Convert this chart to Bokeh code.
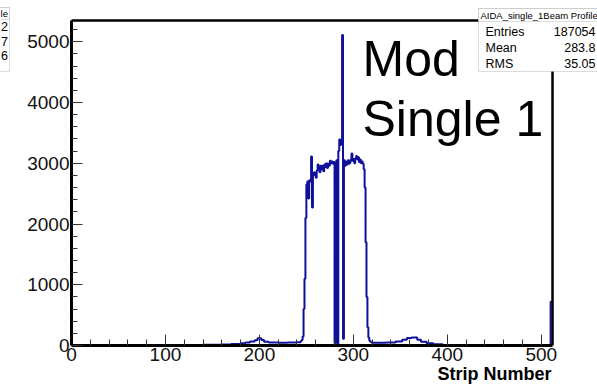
from bokeh.plotting import figure
from bokeh.models import Range1d, FixedTicker, Label, BoxAnnotation, LinearAxis
from bokeh.embed import file_html
from bokeh.resources import INLINE

# ---------------- data ----------------
low_edges = [0, 140, 160, 170, 180, 185, 190, 195, 198, 202, 205, 210, 220, 230, 240, 244]
low_counts = [8, 12, 18, 25, 35, 50, 65, 85, 120, 90, 60, 50, 45, 50, 55, 75]

peak_first_strip = 245
peak_counts = [
    90, 150, 600, 1100, 2100, 2650, 2700, 2420, 2720, 2700,      # 245-254
    3110, 2270, 2800, 2850, 2830, 2760, 2880, 2980, 2900, 2850,  # 255-264
    2960, 2900, 2960, 2870, 2980, 2940, 3000, 2920, 2990, 2960,  # 265-274
    3040, 3000, 3030, 2990, 3020, 35, 2950, 3050, 25, 3200,      # 275-284
    3390, 3300, 3390, 5110, 110, 3050, 2960, 3020, 2980, 3050,   # 285-294
    2990, 3010, 3060, 3160, 3040, 3070, 3000, 3080, 3120, 3060,  # 295-304
    3100, 3020, 3060, 3000, 3030, 2990, 2900, 2600, 1700, 800,   # 305-314
    300, 130, 80, 60, 50,                                        # 315-319
]

tail_edges = [320, 335, 345, 352, 357, 362, 368, 372, 378, 385, 395, 510]
tail_counts = [45, 50, 65, 95, 125, 130, 95, 60, 35, 20, 8, 720]
x_max = 512
y_max = 5350

x_major_ticks = [0, 100, 200, 300, 400, 500]
x_minor_ticks = [20, 40, 60, 80, 120, 140, 160, 180, 220, 240, 260, 280,
                 320, 340, 360, 380, 420, 440, 460, 480]
y_major_ticks = [0, 1000, 2000, 3000, 4000, 5000]
y_minor_ticks = [200, 400, 600, 800, 1200, 1400, 1600, 1800, 2200, 2400, 2600, 2800,
                 3200, 3400, 3600, 3800, 4200, 4400, 4600, 4800, 5200]

stats_title = "AIDA_single_1Beam Profile"
stats_names = ["Entries", "Mean", "RMS"]
stats_values = ["187054", "283.8", "35.05"]
left_box_texts = ["2", "7", "6"]
annotation_lines = ["Mod", "Single 1"]
x_title = "Strip Number"

# ---------------- build histogram outline ----------------
edges = low_edges + [peak_first_strip + i for i in range(len(peak_counts))] + tail_edges + [x_max]
counts = low_counts + peak_counts + tail_counts
xs, ys = [], []
for i, c in enumerate(counts):
    xs += [edges[i], edges[i + 1]]
    ys += [c, c]

# ---------------- layout ----------------
W, H = 597, 384
FL, FR, FT, FB = 71, 552, 20, 345   # pixel position of the drawn ROOT frame
FONT = "Liberation Sans"

sx = (FR - FL) / x_max          # px per strip
sy = (FB - FT) / y_max          # px per count
x_range = Range1d(-FL / sx, x_max + (W - FR) / sx)
y_range = Range1d(-(H - FB) / sy, y_max + FT / sy)

p = figure(width=W, height=H, x_range=x_range, y_range=y_range,
           output_backend="svg", toolbar_location=None,
           min_border_left=0, min_border_right=0, min_border_top=0, min_border_bottom=0)
p.background_fill_color = "white"
p.border_fill_color = "white"
p.outline_line_color = None
p.xgrid.visible = False
p.ygrid.visible = False

p.xaxis.ticker = FixedTicker(ticks=x_major_ticks, minor_ticks=x_minor_ticks)
p.yaxis.ticker = FixedTicker(ticks=y_major_ticks, minor_ticks=y_minor_ticks)
p.xaxis.fixed_location = 0
p.yaxis.fixed_location = 0
p.xaxis.bounds = (0, x_max)
p.yaxis.bounds = (0, y_max)
for ax in (p.xaxis, p.yaxis):
    ax.major_tick_in = 11
    ax.major_tick_out = 0
    ax.minor_tick_in = 6
    ax.minor_tick_out = 0
    ax.major_tick_line_color = "#333333"
    ax.minor_tick_line_color = "#333333"
    ax.axis_line_width = 3
    ax.axis_line_color = "black"
    ax.major_label_text_font = FONT
    ax.major_label_text_font_size = "19px"
    ax.major_label_text_color = "#111111"
    ax.major_label_standoff = 2

# top and right frame lines
for loc, fixed, bnds in (("above", y_max, (0, x_max)), ("right", x_max, (0, y_max))):
    fa = LinearAxis(ticker=FixedTicker(ticks=[]), fixed_location=fixed, bounds=bnds,
                    axis_line_width=2.5, axis_line_color="black",
                    major_tick_line_color=None, minor_tick_line_color=None,
                    major_label_text_font_size="0px")
    p.add_layout(fa, loc)

p.line(xs, ys, line_color="#10109a", line_width=2)


def clabel(x, y, text, size, align="left", style="normal", baseline="middle"):
    p.add_layout(Label(x=x, y=y, x_units="canvas", y_units="canvas", text=text,
                       text_font=FONT, text_font_size=size, text_font_style=style,
                       text_color="black", text_align=align, text_baseline=baseline))


def cbox(l, r, t, b):
    p.add_layout(BoxAnnotation(left=l, right=r, top=t, bottom=b,
                               left_units="canvas", right_units="canvas",
                               top_units="canvas", bottom_units="canvas",
                               fill_color="white", fill_alpha=1,
                               line_color="#888888", line_width=1))


# "Mod / Single 1" annotation
clabel(362, 58, annotation_lines[0], "50px", baseline="alphabetic")
clabel(362, 118, annotation_lines[1], "50px", baseline="alphabetic")

# axis title
clabel(551, 373, x_title, "18px", align="right", style="bold")

# stats box (right)
cbox(478, 620, 8, 71)
cbox(478, 620, 8, 21)
clabel(480, 14.5, stats_title, "9.5px")
for i, (n, v) in enumerate(zip(stats_names, stats_values)):
    clabel(485, 31 + 16 * i, n, "12.5px")
    clabel(595, 31 + 16 * i, v, "12.5px", align="right")

# stats box remnant (left, cut off)
cbox(-60, 9, 7, 71)
cbox(-60, 9, 7, 19)
clabel(7.5, 13, "le", "9.5px", align="right")
for i, t in enumerate(left_box_texts):
    clabel(7.5, 26 + 14.5 * i, t, "12.5px", align="right")

open("out.html", "w").write(file_html(p, INLINE))
